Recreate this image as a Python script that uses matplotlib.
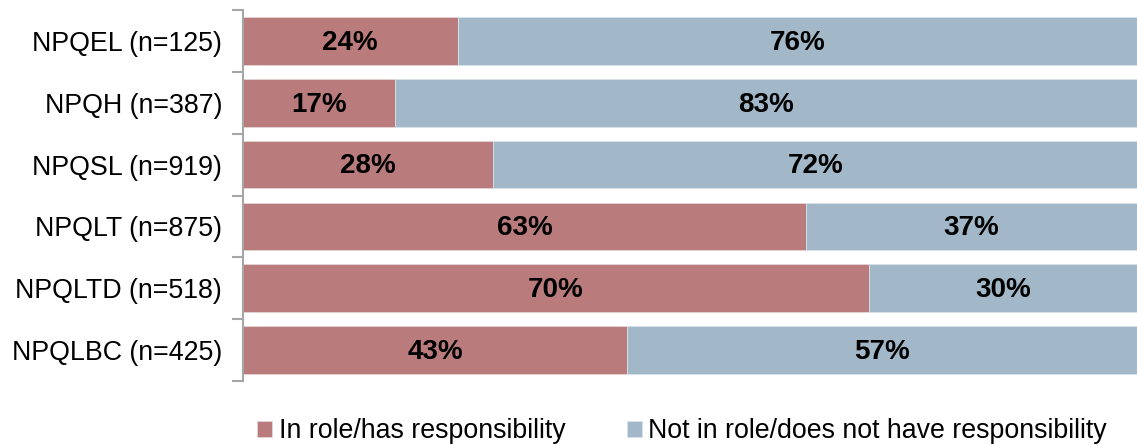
import numpy as np
import matplotlib.pyplot as plt

plt.rcParams['font.family'] = ['Liberation Sans', 'DejaVu Sans']

categories = ['NPQEL (n=125)', 'NPQH (n=387)', 'NPQSL (n=919)',
              'NPQLT (n=875)', 'NPQLTD (n=518)', 'NPQLBC (n=425)']
in_role = [24, 17, 28, 63, 70, 43]
not_in_role = [76, 83, 72, 37, 30, 57]
series_names = ['In role/has responsibility',
                'Not in role/does not have responsibility']

red = '#B97B7C'
blue = '#A2B8C8'

fig = plt.figure(figsize=(11.37, 4.45), dpi=100)
ax = fig.add_axes([0.2137, 0.1438, 0.7863, 0.8337])

y = np.arange(len(categories))
b1 = ax.barh(y, in_role, height=0.77, color=red, edgecolor='#E6D4D4',
             linewidth=0.6, label=series_names[0])
b2 = ax.barh(y, not_in_role, left=in_role, height=0.77, color=blue,
             edgecolor='#D6E1E9', linewidth=0.6, label=series_names[1])

# percentage labels centred in each segment
for vals, lefts in ((in_role, [0] * len(in_role)), (not_in_role, in_role)):
    for i, (v, l) in enumerate(zip(vals, lefts)):
        ax.text(l + v / 2, i + 0.03, f'{v}%', ha='center', va='center',
                fontsize=20, fontweight='bold', color='black')

ax.set_xlim(0, 100)
ax.set_ylim(len(categories) - 0.5, -0.5)
ax.set_xticks([])
ax.set_yticks(y)
ax.set_yticklabels(categories, fontsize=19.3)
ax.tick_params(axis='y', which='major', length=0, pad=15)
ax.set_yticks(np.arange(-0.5, len(categories), 1.0), minor=True)
ax.tick_params(axis='y', which='minor', length=8, width=1.5,
               color='#A6A6A6', direction='out')

for side in ('top', 'right', 'bottom'):
    ax.spines[side].set_visible(False)
ax.spines['left'].set_color('#A6A6A6')
ax.spines['left'].set_linewidth(1.5)

fig.legend(handles=[b1, b2], labels=series_names, loc='center',
           bbox_to_anchor=(0.6, 0.031), ncol=2, frameon=False,
           fontsize=19.3, handlelength=0.55, handleheight=0.55,
           handletextpad=0.25, columnspacing=2.3)

fig.savefig('out.png', dpi=100)
